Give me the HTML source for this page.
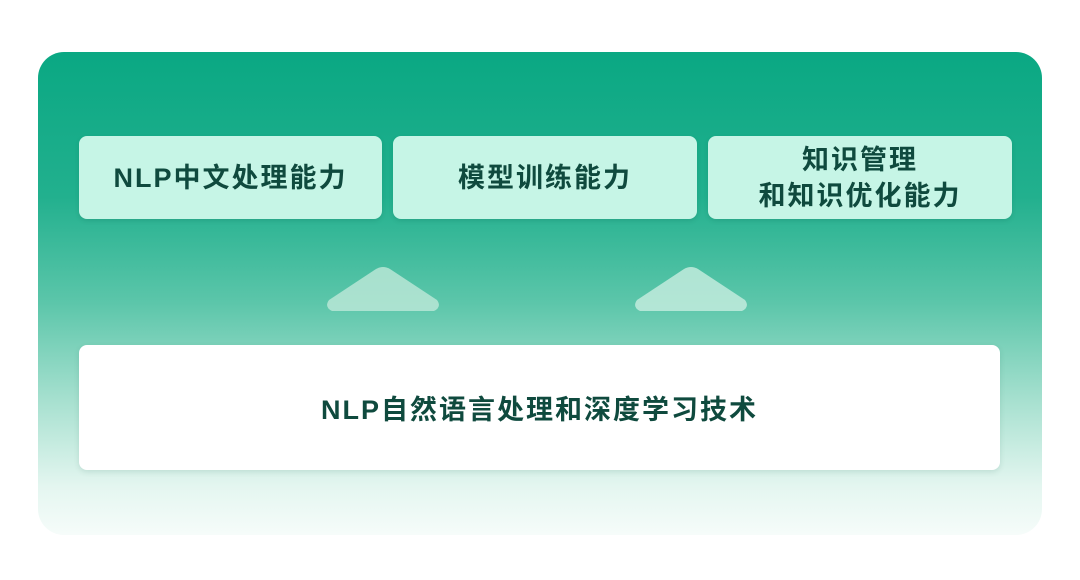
<!DOCTYPE html>
<html><head><meta charset="utf-8"><style>
html,body{margin:0;padding:0;background:#fff;width:1080px;height:580px;overflow:hidden;font-family:"Liberation Sans","Noto Sans CJK SC",sans-serif;}
.panel{position:absolute;left:38px;top:52px;width:1004px;height:483px;border-radius:26px;
background:linear-gradient(180deg,#0aa883 0%,#22b08e 30%,#5cc6aa 52%,#a6e0cf 72%,#e4f6f0 90%,#f6fcfa 100%);}
.box{position:absolute;top:136px;height:83px;background:#c6f5e6;border-radius:8px;display:flex;align-items:center;justify-content:center;text-align:center;
color:#0f4a3e;font-weight:bold;font-size:27px;line-height:36px;letter-spacing:2px;box-shadow:0 2px 4px rgba(0,80,60,0.15);}
.tri{position:absolute;top:266px;}
.bottom{position:absolute;left:79px;top:345px;width:921px;height:125px;background:#fff;border-radius:8px;display:flex;align-items:center;justify-content:center;
color:#0f4a3e;font-weight:bold;font-size:27px;letter-spacing:2px;box-shadow:0 2px 6px rgba(0,80,60,0.12);}
</style></head><body>
<div class="panel"></div>
<div class="box" style="left:79px;width:303px;">NLP中文处理能力</div>
<div class="box" style="left:393px;width:304px;">模型训练能力</div>
<div class="box" style="left:708px;width:304px;">知识管理<br>和知识优化能力</div>
<svg class="tri" style="left:324px" width="118" height="46"><path d="M52 3 Q59 -1 66 3 L113 34 Q118 41 110 45 L8 45 Q0 41 5 34 Z" fill="#b8e6d6" opacity="0.85"/></svg>
<svg class="tri" style="left:632px" width="118" height="46"><path d="M52 3 Q59 -1 66 3 L113 34 Q118 41 110 45 L8 45 Q0 41 5 34 Z" fill="#c2ebdd" opacity="0.85"/></svg>
<div class="bottom">NLP自然语言处理和深度学习技术</div>
</body></html>
